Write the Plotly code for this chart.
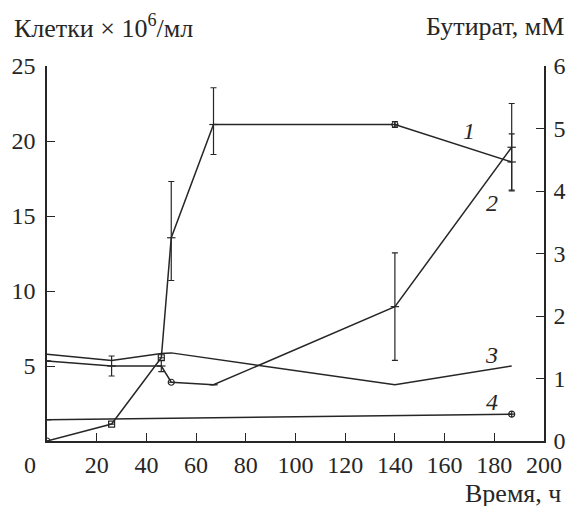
import plotly.graph_objects as go

# Curve 1: cells (left axis, x10^6/ml)
t1 = [0, 26, 46, 50, 67, 140, 187]
cells = [0.0, 1.13, 5.55, 13.55, 21.1, 21.1, 18.6]
cells_err_plus = [0, 0, 0, 3.75, 2.45, 0.2, 1.87]
cells_err_minus = [0, 0, 0, 2.85, 2.0, 0.2, 1.87]
cells_sym = ["circle-open", "square-open", "square-open", "line-ew-open", "line-ew-open", "circle-cross-open", "line-ew-open"]

# Curve 2: butyrate (right axis, mM)
t2 = [0, 26, 46, 50, 67, 140, 187]
butyrate = [1.28, 1.2, 1.2, 0.94, 0.9, 2.15, 4.7]
but_err_plus = [0, 0.16, 0.09, 0, 0, 0.86, 0.7]
but_err_minus = [0, 0.16, 0.09, 0, 0, 0.86, 0.7]
but_sym = ["line-ew-open", "line-ew-open", "line-ew-open", "circle-open", "line-ew-open", "line-ew-open", "line-ew-open"]

# Curve 3 (right axis, mM)
t3 = [0, 26, 46, 50, 140, 187]
curve3 = [1.39, 1.29, 1.40, 1.41, 0.90, 1.20]

# Curve 4 (right axis, mM)
t4 = [0, 187]
curve4 = [0.34, 0.43]

x_ticks = [0, 20, 40, 60, 80, 100, 120, 140, 160, 180, 200]
x_ticktext = ["", "20", "40", "60", "80", "100", "120", "140", "160", "180", "200"]
yl_ticks = [5, 10, 15, 20, 25]
yr_ticks = [0, 1, 2, 3, 4, 5, 6]

col = "#262626"
font = "Liberation Serif, Times New Roman, serif"
tfs = 24
lfs = 26

fig = go.Figure()
fig.add_trace(go.Scatter(
    x=t1, y=cells, mode="lines+markers", yaxis="y",
    line=dict(color=col, width=1.5),
    marker=dict(symbol=cells_sym, size=6, color=col, line=dict(color=col, width=1.2)),
    error_y=dict(type="data", array=cells_err_plus, arrayminus=cells_err_minus,
                 color=col, thickness=1.2, width=3),
    showlegend=False))
fig.add_trace(go.Scatter(
    x=t2, y=butyrate, mode="lines+markers", yaxis="y2",
    line=dict(color=col, width=1.5),
    marker=dict(symbol=but_sym, size=6, color=col, line=dict(color=col, width=1.2)),
    error_y=dict(type="data", array=but_err_plus, arrayminus=but_err_minus,
                 color=col, thickness=1.2, width=3),
    showlegend=False))
fig.add_trace(go.Scatter(
    x=t3, y=curve3, mode="lines", yaxis="y2",
    line=dict(color=col, width=1.5), showlegend=False))
fig.add_trace(go.Scatter(
    x=t4, y=curve4, mode="lines+markers", yaxis="y2",
    line=dict(color=col, width=1.5),
    marker=dict(symbol=["line-ew-open", "circle-cross-open"], size=6, color=col,
                line=dict(color=col, width=1.2)),
    showlegend=False))

axis_common = dict(showgrid=False, zeroline=False, showline=True, linecolor=col, linewidth=1.6,
                   ticks="inside", ticklen=8, tickwidth=1.4, tickcolor=col, automargin=False,
                   tickfont=dict(family=font, size=tfs, color=col))

fig.update_layout(
    width=567, height=506,
    margin=dict(l=47, r=23, t=66, b=65),
    font=dict(family=font),
    plot_bgcolor="white", paper_bgcolor="white",
    xaxis=dict(range=[0, 200], tickvals=x_ticks, ticktext=x_ticktext, ticklabelstandoff=1, **axis_common),
    yaxis=dict(range=[0, 25], tickvals=yl_ticks, ticklabelstandoff=5, **axis_common),
    yaxis2=dict(range=[0, 6], tickvals=yr_ticks, overlaying="y", side="right", ticklabelstandoff=3, **axis_common),
    annotations=[
        dict(text="Клетки × 10<sup>6</sup>/мл", xref="paper", yref="paper", x=-0.07, y=1.104,
             xanchor="left", yanchor="middle", showarrow=False,
             font=dict(family=font, size=lfs, color=col)),
        dict(text="Бутират, мМ", xref="paper", yref="paper", x=1.044, y=1.104,
             xanchor="right", yanchor="middle", showarrow=False,
             font=dict(family=font, size=lfs, color=col)),
        dict(text="Время, ч", xref="paper", yref="paper", x=1.038, y=-0.139,
             xanchor="right", yanchor="middle", showarrow=False,
             font=dict(family=font, size=lfs, color=col)),
        dict(text="0", xref="paper", yref="paper", x=-0.034, y=-0.064,
             xanchor="center", yanchor="middle", showarrow=False,
             font=dict(family=font, size=tfs, color=col)),
        dict(text="<i>1</i>", x=170, y=20.7, xref="x", yref="y", showarrow=False,
             font=dict(family=font, size=tfs, color=col)),
        dict(text="<i>2</i>", x=179, y=3.81, xref="x", yref="y2", showarrow=False,
             font=dict(family=font, size=tfs, color=col)),
        dict(text="<i>3</i>", x=179, y=1.38, xref="x", yref="y2", showarrow=False,
             font=dict(family=font, size=tfs, color=col)),
        dict(text="<i>4</i>", x=179, y=0.62, xref="x", yref="y2", showarrow=False,
             font=dict(family=font, size=tfs, color=col)),
    ],
)

fig.write_html("out.html")
